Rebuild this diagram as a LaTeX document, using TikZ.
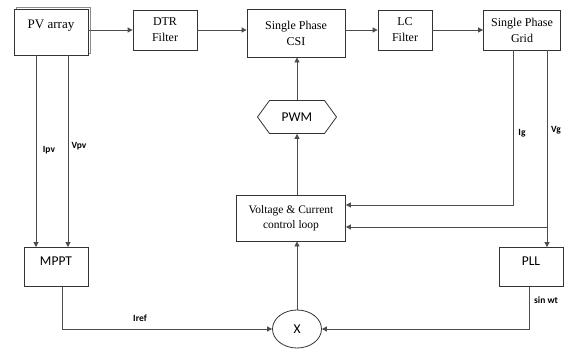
\documentclass[tikz,border=0pt]{standalone}
\usepackage{fontspec}
\setmainfont{Liberation Serif}
\newfontfamily\calib{Carlito}
\usetikzlibrary{arrows.meta,shapes.geometric,shapes.symbols,shadows}
\begin{document}
\begin{tikzpicture}[x=1pt, y=-1pt,
    blk/.style={rectangle, draw=black!80, thick, align=center, inner sep=1pt,
      font=\fontsize{12}{16}\selectfont},
    cblk/.style={rectangle, draw=black!80, thick, inner sep=1pt,
      font=\calib\fontsize{13.5}{16}\selectfont},
    lbl/.style={font=\calib\bfseries\fontsize{9.5}{11}\selectfont, inner sep=0pt},
    arr/.style={draw=black!70, thick, -{Triangle[length=5pt,width=5pt]}},
    ln/.style={draw=black!70, thick}]
  \useasboundingbox (0,0) rectangle (572,349);
  % top row
  \node[blk, fill=white, minimum width=74pt, minimum height=46pt, text height=9pt, text depth=17pt,
    copy shadow={shadow xshift=1.8pt, shadow yshift=1.8pt, draw=black!45, line width=0.6pt, fill=white},
    font=\fontsize{13}{16}\selectfont] (pv) at (51,32) {PV array};
  \node[blk, minimum width=64pt, minimum height=40pt] (dtr) at (165,30) {DTR\\Filter};
  \node[blk, minimum width=98pt, minimum height=48pt] (csi) at (296,33) {Single Phase\\CSI};
  \node[blk, minimum width=54pt, minimum height=40pt] (lc) at (405,30) {LC\\Filter};
  \node[blk, minimum width=77pt, minimum height=40pt] (grid) at (522,30) {Single Phase\\Grid};
  % control part
  \node[signal, signal to=east and west, signal pointer angle=108, draw=black!80, thick,
    minimum width=79pt, minimum height=33pt, inner sep=1pt,
    font=\calib\fontsize{13.5}{16}\selectfont] (pwm) at (297,117) {PWM};
  \node[blk, minimum width=109pt, minimum height=46pt, font=\fontsize{11.5}{15}\selectfont]
    (vc) at (291,218) {Voltage \& Current\\control loop};
  \node[cblk, minimum width=64pt, minimum height=39pt, text height=8pt, text depth=11pt]
    (mppt) at (56,267) {MPPT};
  \node[cblk, minimum width=64pt, minimum height=39pt, text height=8pt, text depth=11pt]
    (pll) at (531,267) {PLL};
  \node[ellipse, draw=black!80, thick, minimum width=49pt, minimum height=38pt, inner sep=1pt,
    font=\calib\fontsize{13.5}{16}\selectfont] (mult) at (297,329) {X};
  \coordinate (igtap) at (513,205);
  \coordinate (vgtap) at (547,227);
  % labels
  \node[lbl] (ipv) at (49,150) {Ipv};
  \node[lbl] (vpv) at (79,146) {Vpv};
  \node[lbl] (ig) at (522,133) {Ig};
  \node[lbl] (vg) at (556,130) {Vg};
  \node[lbl] (iref) at (140,318) {Iref};
  \node[lbl] (sinwt) at (546,300) {sin wt};
  % power path
  \draw[arr](pv.east |- dtr.west) -- (dtr.west);
  \draw[arr](dtr.east) -- (dtr.east -| csi.west);
  \draw[arr](csi.east |- lc.west) -- (lc.west);
  \draw[arr](lc.east) -- (grid.west);
  % measurements
  \draw[arr]([xshift=-15pt]pv.south) -- ([xshift=-15pt]pv.south |- mppt.north);
  \draw[arr]([xshift=17pt]pv.south) -- ([xshift=17pt]pv.south |- mppt.north);
  \draw[arr](igtap |- grid.south) -- (igtap) -- (igtap -| vc.east);
  \draw[arr](vgtap |- grid.south) -- (vgtap |- pll.north);
  \draw[arr](vgtap) -- (vgtap -| vc.east);
  % control loop
  \draw[arr]([xshift=6pt]mppt.south) |- (mult.west);
  \draw[arr]([xshift=-2pt]pll.south) |- (mult.east);
  \draw[arr](mult.north) -- (mult.north |- vc.south);
  \draw[arr](pwm.south |- vc.north) -- (pwm.south);
  \draw[arr](pwm.north) -- (pwm.north |- csi.south);
\end{tikzpicture}
\end{document}
